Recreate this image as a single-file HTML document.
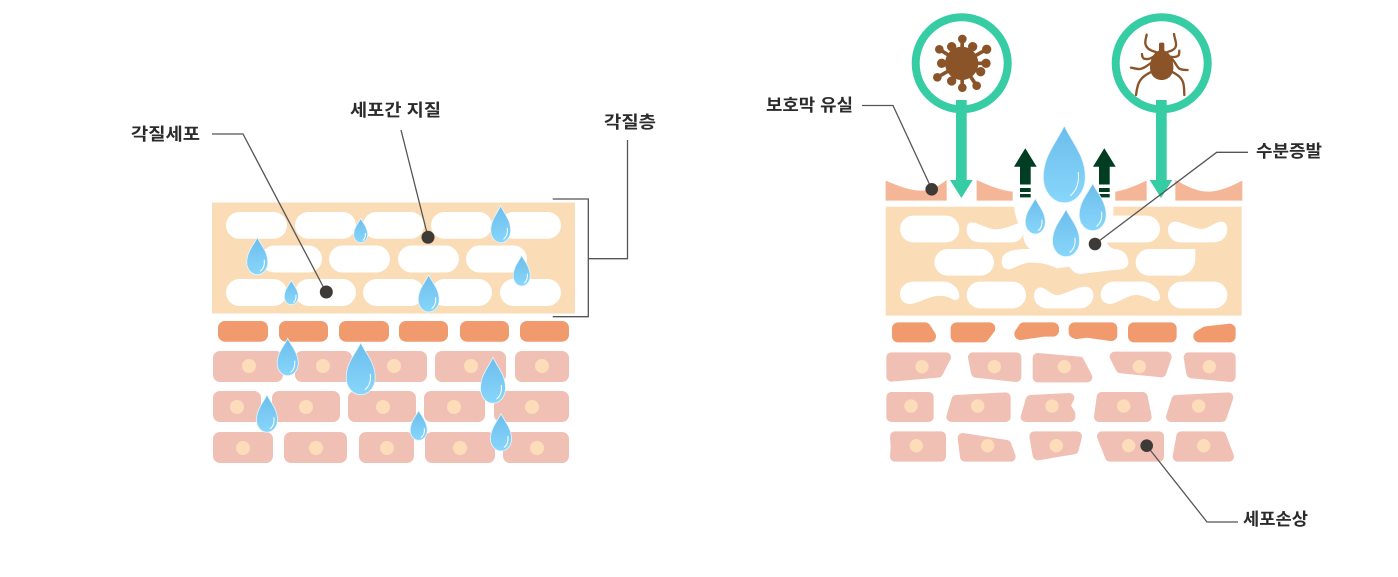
<!DOCTYPE html>
<html><head><meta charset="utf-8"><style>
html,body{margin:0;padding:0;background:#fff;width:1398px;height:577px;overflow:hidden}
svg{display:block;filter:blur(.35px)}
text{font-family:"Liberation Sans","Noto Sans CJK KR",sans-serif;font-weight:700;font-size:17px;fill:#2b2b2b}
.l{fill:none;stroke:#555;stroke-width:1.3}
.d{fill:#3e3a37}
.w{fill:#fff}
.o{fill:#f19a6e;stroke:#f19a6e;stroke-width:36;stroke-linejoin:round}
.p{fill:#f1c0b4;stroke:#f1c0b4;stroke-width:30;stroke-linejoin:round}
.n{fill:#fddcb9}
</style></head><body>
<svg width="1398" height="577" viewBox="0 0 1398 577" xmlns="http://www.w3.org/2000/svg">
<defs>
<linearGradient id="g" x1="0" y1="0" x2="0" y2="1"><stop offset="0" stop-color="#6cbdec"/><stop offset="1" stop-color="#87d6fb"/></linearGradient>
<g id="dr">
<path d="M0 0C.16 .2 .5 .38 .5 .67C.5 .86 .27 1 0 1C-.27 1 -.5 .86 -.5 .67C-.5 .38 -.16 .2 0 0Z" fill="url(#g)" stroke="#e8f6fd" stroke-width=".8" vector-effect="non-scaling-stroke"/>
<path d="M.33 .6C.36 .74 .3 .84 .14 .91" fill="none" stroke="#fff" stroke-width="1" vector-effect="non-scaling-stroke"/>
</g>
</defs>

<!-- LEFT PANEL -->
<rect x="212" y="202.5" width="363" height="111" fill="#fadcb6"/>
<g class="w">
<rect x="226" y="212" width="61" height="26.7" rx="13.3"/><rect x="295" y="212" width="61" height="26.7" rx="13.3"/><rect x="363" y="212" width="61" height="26.7" rx="13.3"/><rect x="431" y="212" width="61" height="26.7" rx="13.3"/><rect x="500" y="212" width="61" height="26.7" rx="13.3"/>
<rect x="261" y="245.5" width="61" height="27" rx="13.5"/><rect x="329" y="245.5" width="61" height="27" rx="13.5"/><rect x="398" y="245.5" width="61" height="27" rx="13.5"/><rect x="466" y="245.5" width="61" height="27" rx="13.5"/>
<rect x="226" y="279" width="61" height="27" rx="13.5"/><rect x="295" y="279" width="61" height="27" rx="13.5"/><rect x="363" y="279" width="61" height="27" rx="13.5"/><rect x="431" y="279" width="61" height="27" rx="13.5"/><rect x="500" y="279" width="61" height="27" rx="13.5"/>
</g>
<g fill="#f19a6e">
<rect x="218" y="321" width="50" height="20.7" rx="7"/><rect x="279" y="321" width="49" height="20.7" rx="7"/><rect x="339" y="321" width="50" height="20.7" rx="7"/><rect x="399" y="321" width="49" height="20.7" rx="7"/><rect x="460" y="321" width="49" height="20.7" rx="7"/><rect x="520" y="321" width="49" height="20.7" rx="7"/>
</g>
<g fill="#f1c0b4">
<rect x="213" y="351" width="70" height="31" rx="7"/><rect x="295" y="351" width="57" height="31" rx="7"/><rect x="358" y="351" width="69" height="31" rx="7"/><rect x="435" y="351" width="71" height="31" rx="7"/><rect x="515" y="351" width="54" height="31" rx="7"/>
<rect x="213" y="391" width="48" height="31" rx="7"/><rect x="272" y="391" width="68" height="31" rx="7"/><rect x="348" y="391" width="68" height="31" rx="7"/><rect x="424" y="391" width="61" height="31" rx="7"/><rect x="494" y="391" width="75" height="31" rx="7"/>
<rect x="213" y="432" width="60" height="31" rx="7"/><rect x="284" y="432" width="63" height="31" rx="7"/><rect x="359" y="432" width="55" height="31" rx="7"/><rect x="425" y="432" width="70" height="31" rx="7"/><rect x="503" y="432" width="66" height="31" rx="7"/>
</g>
<g class="n">
<circle cx="249" cy="366" r="7"/><circle cx="323" cy="366" r="7"/><circle cx="394" cy="366" r="7"/><circle cx="471" cy="366" r="7"/><circle cx="542" cy="366" r="7"/>
<circle cx="237" cy="407" r="7"/><circle cx="306" cy="407" r="7"/><circle cx="383" cy="407" r="7"/><circle cx="454" cy="407" r="7"/><circle cx="532" cy="407" r="7"/>
<circle cx="243" cy="448" r="7"/><circle cx="316" cy="448" r="7"/><circle cx="387" cy="448" r="7"/><circle cx="460" cy="448" r="7"/><circle cx="537" cy="448" r="7"/>
</g>
<use href="#dr" transform="translate(500.7 205.7) scale(20 37)"/>
<use href="#dr" transform="translate(360.7 218.3) scale(14 24.4)"/>
<use href="#dr" transform="translate(257.3 237.3) scale(21 37.4)"/>
<use href="#dr" transform="translate(521.7 255.3) scale(17 30.7)"/>
<use href="#dr" transform="translate(291.3 280.3) scale(14 24.4)"/>
<use href="#dr" transform="translate(428.7 275) scale(21 37)"/>
<use href="#dr" transform="translate(287.7 338.3) scale(21 37.4)"/>
<use href="#dr" transform="translate(360.7 342.7) scale(29 52)"/>
<use href="#dr" transform="translate(493 357.3) scale(25 46)"/>
<use href="#dr" transform="translate(267 394.7) scale(21 37.6)"/>
<use href="#dr" transform="translate(418.7 410.3) scale(17 30)"/>
<use href="#dr" transform="translate(501 413.7) scale(21 37.3)"/>

<path class="l" d="M212 134H243L326 292"/>
<path class="l" d="M401 130L428 237"/>
<path class="l" d="M552.7 199H588.3V316.7H552.7M588.3 258.7H627.5V140"/>
<circle class="d" cx="326.3" cy="292" r="6.5"/>
<circle class="d" cx="428" cy="237.3" r="6.5"/>

<!-- RIGHT PANEL -->
<circle cx="961.7" cy="63.3" r="46" fill="#fff" stroke="#36cda4" stroke-width="8"/>
<circle cx="1161.7" cy="63.3" r="46" fill="#fff" stroke="#36cda4" stroke-width="8"/>

<g transform="translate(880 170) scale(.33333)">
<rect x="17" y="110" width="1068" height="327" fill="#fadcb6"/>
<g fill="#f5b697">
<path d="M17 32C60 50 90 62 125 62C155 62 180 45 200 30V92H17Z"/>
<path d="M290 30C330 48 365 62 398 65V92H290Z"/>
<path d="M706 65C740 60 770 45 800 32V92H706Z"/>
<path d="M886 30C920 48 950 65 985 65C1020 65 1055 48 1087 32V92H886Z"/>
</g>
<g class="w">
<path d="M402 105H700L700 137H800A40 40 0 0 1 800 217H682C680 225 690 232 702 237A40 40 0 0 1 745 277C745 295 725 300 700 300L600 312C585 312 575 300 568 290L530 295C510 285 490 278 450 278C420 280 400 298 385 298C372 298 365 288 365 275C365 250 385 237 450 237C435 225 428 205 430 190C412 160 404 135 402 105Z"/>
<rect x="60" y="137" width="178" height="80" rx="40"/>
<path d="M275 157C295 157 320 178 350 178C375 178 395 165 430 155V185C430 205 415 217 395 217H300C275 217 260 200 260 178C260 165 265 157 275 157Z"/>
<path d="M885 155C905 155 940 177 965 177C985 177 1005 155 1025 155C1035 155 1042 165 1042 178C1042 200 1025 217 1000 217H900C880 217 864 200 864 178C864 165 873 155 885 155Z"/>
<rect x="163" y="237" width="179" height="80" rx="40"/>
<path d="M767 277C767 255 785 237 807 237H946V265C946 295 925 317 900 317H807C785 317 767 299 767 277Z"/>
<path d="M100 335H190C215 335 238 355 238 378C238 390 228 392 218 388C205 380 190 376 170 378C140 382 110 402 90 402C70 402 60 388 60 372C60 352 78 335 100 335Z"/>
<rect x="260" y="335" width="178" height="80" rx="40"/>
<path d="M482 352C500 355 515 375 530 375C555 375 590 350 615 350C630 350 640 360 640 375C640 398 622 415 600 415H500C480 415 462 398 462 378C462 362 470 352 482 352Z"/>
<path d="M700 335H790C815 335 840 360 840 382C840 392 828 396 818 392C805 382 780 375 765 375C745 375 710 402 690 402C672 402 662 388 662 375C662 352 680 335 700 335Z"/>
<rect x="864" y="335" width="178" height="80" rx="40"/>
</g>
</g>

<!-- green arrows -->
<g fill="#36cda4">
<path d="M956 100H966.7V180H972.7L961.4 198L950 180H956Z"/>
<path d="M1156 100H1166.7V180H1172.3L1161 198L1149.7 180H1156Z"/>
</g>
<!-- dark arrows -->
<g fill="#003d22">
<path d="M1025.3 148.3L1036.7 166.7H1030.7V184.5H1020V166.7H1014Z"/>
<rect x="1020" y="188" width="10.7" height="4"/><rect x="1020" y="194" width="10.7" height="3.4"/>
<path d="M1104.3 148.3L1115.7 166.7H1109.7V184.5H1099V166.7H1093Z"/>
<rect x="1099" y="188" width="10.7" height="4"/><rect x="1099" y="194" width="10.7" height="3.4"/>
</g>
<use href="#dr" transform="translate(1064.3 125.7) scale(42 77)"/>
<use href="#dr" transform="translate(1035.3 198.3) scale(20 35.7)"/>
<use href="#dr" transform="translate(1066 209.3) scale(27 47.4)"/>
<use href="#dr" transform="translate(1092.7 183.3) scale(27 47.4)"/>

<g transform="translate(880 315) scale(.33333)">
<g class="o">
<path d="M54 40H135L150 64H54Z"/>
<path d="M230 40H328L310 64H230Z"/>
<path d="M432 40H519V47H490L421 57Z"/>
<path d="M584 40H694V60L620 50L590 54L584 52Z"/>
<path d="M762 40H872V64H762Z"/>
<path d="M978 52L1049 44V64H958Z"/>
</g>
<g class="p">
<path d="M34 127H198L174 173L34 185Z"/>
<path d="M279 127H409V186L288 173Z"/>
<path d="M473 129L598 140L622 187H473Z"/>
<path d="M704 125H860L844 172L722 160Z"/>
<path d="M926 127H1052V186L934 175Z"/>
<path d="M34 246H146V306H34Z"/>
<path d="M229 255L377 247V306H214Z"/>
<path d="M452 255L568 249L556 272L571 297V306H437Z"/>
<path d="M665 246H788L800 306H657Z"/>
<path d="M889 255L1045 247L1025 306H873Z"/>
<path d="M45 364H183V425H45L47 395Z"/>
<path d="M248 369L379 390L392 425H255Z"/>
<path d="M463 364H591L581 403L473 421Z"/>
<path d="M666 364H837V425H690Z"/>
<path d="M904 364H1024L1047 425H893Z"/>
</g>
<g class="n">
<circle cx="126" cy="155" r="20"/><circle cx="343" cy="155" r="20"/><circle cx="553" cy="155" r="20"/><circle cx="778" cy="155" r="20"/><circle cx="988" cy="155" r="20"/>
<circle cx="93" cy="273" r="20"/><circle cx="293" cy="273" r="20"/><circle cx="516" cy="273" r="20"/><circle cx="731" cy="273" r="20"/><circle cx="956" cy="273" r="20"/>
<circle cx="109" cy="392" r="20"/><circle cx="323" cy="392" r="20"/><circle cx="529" cy="392" r="20"/><circle cx="746" cy="392" r="20"/><circle cx="971" cy="392" r="20"/>
</g>
</g>

<!-- virus -->
<g transform="translate(880 0) scale(.33333)" fill="#8a5428" stroke="#8a5428">
<circle cx="245" cy="190" r="50" stroke="none"/>
<g stroke-width="11" fill="none">
<path d="M245 190L247 117M245 190L215 140M245 190L278 140M245 190L178 148M245 190L320 148M245 190L185 190M245 190L318 190M245 190L302 215M245 190L172 232M245 190L215 243M245 190L247 263M245 190L290 257"/>
</g>
<g stroke="none">
<circle cx="247" cy="117" r="13"/><circle cx="215" cy="140" r="14"/><circle cx="278" cy="140" r="14"/><circle cx="178" cy="148" r="13"/><circle cx="320" cy="148" r="14"/><circle cx="185" cy="190" r="14"/><circle cx="318" cy="190" r="14"/><circle cx="302" cy="215" r="14"/><circle cx="172" cy="232" r="13"/><circle cx="215" cy="243" r="14"/><circle cx="247" cy="263" r="13"/><circle cx="290" cy="257" r="13"/>
</g>
</g>
<!-- tick -->
<g transform="translate(1120 30) scale(.33333)" fill="#8a5428" stroke="#8a5428">
<path d="M125 60C150 62 160 90 160 112C160 135 145 150 125 150C105 150 90 135 90 112C90 90 100 62 125 60Z" stroke="none"/>
<rect x="117" y="38" width="16" height="30" rx="5" stroke="none"/>
<g fill="none" stroke-width="7" stroke-linecap="round" stroke-linejoin="round">
<path d="M108 66C90 62 78 55 76 40C75 30 79 22 80 14"/>
<path d="M142 66C160 62 170 55 168 40C167 30 163 22 162 12"/>
<path d="M100 80C88 88 78 88 72 86C66 82 66 76 66 72"/>
<path d="M150 80C162 82 172 80 176 76C178 70 178 66 178 62"/>
<path d="M94 98C80 108 70 116 60 117C50 118 42 114 33 113"/>
<path d="M155 86C165 95 170 110 178 116C186 120 195 120 203 120"/>
<path d="M95 125C75 135 60 145 54 165C50 178 49 186 48 195"/>
<path d="M155 125C175 135 188 145 191 165C193 178 193 186 193 195"/>
</g>
</g>

<!-- right leaders -->
<path class="l" d="M862 105.5H893L931.7 189"/>
<path class="l" d="M1095 244L1216.7 152.3H1248"/>
<path class="l" d="M1147 446L1207 522H1238"/>
<circle class="d" cx="931.7" cy="189.3" r="6.3"/>
<circle class="d" cx="1095" cy="244" r="6.3"/>
<circle class="d" cx="1146.7" cy="445.7" r="6.3"/>

<!-- labels -->
<text x="131" y="140" textLength="69" lengthAdjust="spacingAndGlyphs">각질세포</text>
<text x="350" y="116" textLength="91" lengthAdjust="spacingAndGlyphs">세포간 지질</text>
<text x="604" y="128" textLength="52" lengthAdjust="spacingAndGlyphs">각질층</text>
<text x="766" y="111" textLength="87" lengthAdjust="spacingAndGlyphs">보호막 유실</text>
<text x="1256" y="157" textLength="66" lengthAdjust="spacingAndGlyphs">수분증발</text>
<text x="1243" y="525" textLength="65" lengthAdjust="spacingAndGlyphs">세포손상</text>
</svg>
</body></html>
